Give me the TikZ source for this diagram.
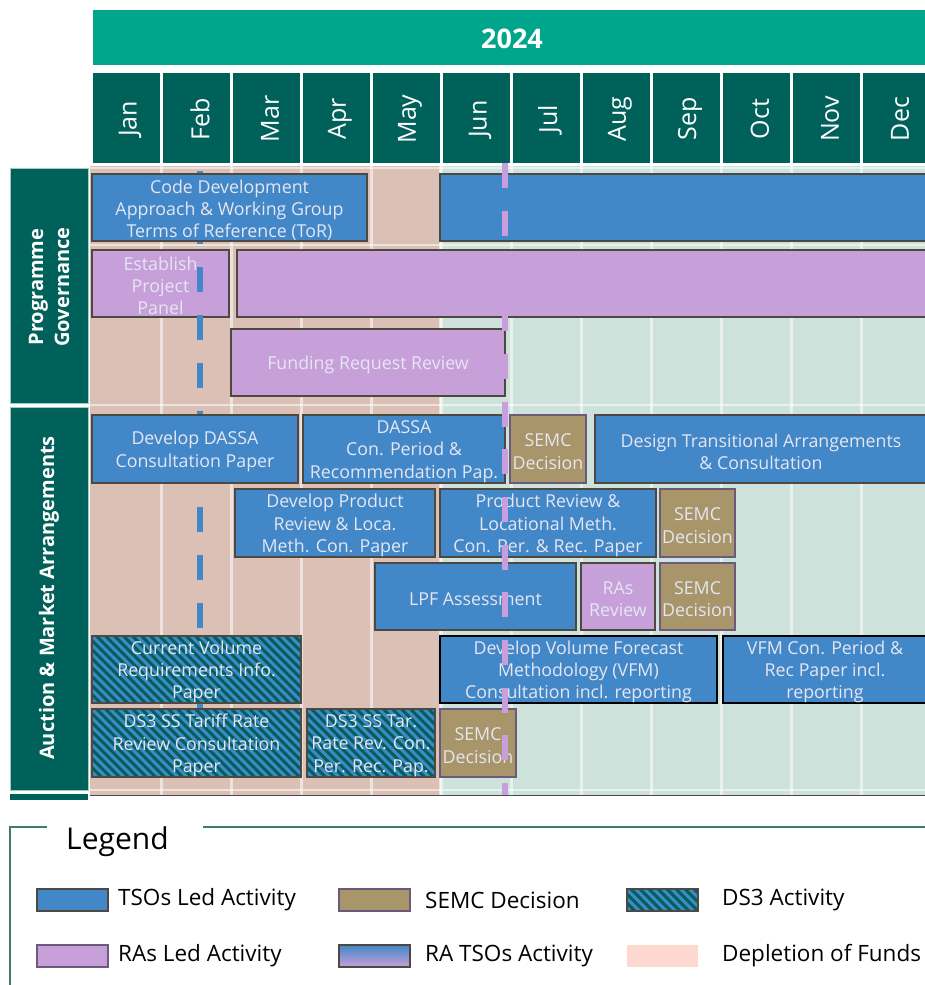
\documentclass[tikz,border=0pt]{standalone}
\usepackage{fontspec}
\setmainfont{Open Sans}
\definecolor{yearc}{HTML}{00A68B}
\definecolor{monthc}{HTML}{00605A}
\definecolor{pinkbg}{HTML}{DBC0B6}
\definecolor{mintbg}{HTML}{CCE2DB}
\definecolor{bluebar}{HTML}{4287C8}
\definecolor{purplebar}{HTML}{C7A0DA}
\definecolor{purpledash}{HTML}{C99EDC}
\definecolor{goldbar}{HTML}{A8956A}
\definecolor{barline}{HTML}{4D4840}
\definecolor{goldline}{HTML}{6C5A7C}
\definecolor{bartext}{HTML}{E6E6F2}
\definecolor{deplete}{HTML}{FDD8D1}
\definecolor{legendline}{HTML}{3F7B73}
\definecolor{labeledge}{HTML}{9CCFC6}
\definecolor{bottomline}{HTML}{4A4A44}
\tikzset{
  barbox/.style={draw=barline, line width=2.5pt, inner sep=0pt, outer sep=0pt, anchor=north west},
  bartxt/.style={align=center, text=bartext, inner sep=0pt, font=\fontsize{17.8}{22.3}\selectfont},
  tsobar/.style={barbox, fill=bluebar},
  rabar/.style={barbox, fill=purplebar},
  semcbar/.style={barbox, fill=goldbar, draw=goldline},
  stripes/.style={path picture={\foreach \k in {-12,...,28}{\draw[line width=3pt, draw=bluebar]
      ([xshift=\k*9pt]path picture bounding box.north west) -- ++(110,110);}}},
  ds3bar/.style={barbox, fill=monthc, stripes},
  monthbox/.style={fill=monthc, inner sep=0pt, outer sep=0pt, anchor=north west,
    minimum width=67pt, minimum height=90pt},
  monthtxt/.style={rotate=90, text=white, font=\fontsize{25}{30}\selectfont},
  grouplabel/.style={fill=monthc, draw=labeledge, line width=1pt, inner sep=0pt, outer sep=0pt,
    anchor=north west, minimum width=78pt},
  grouptxt/.style={rotate=90, text=white, align=center, font=\bfseries\fontsize{20}{26}\selectfont},
  gridline/.style={draw=white, opacity=0.55, line width=2.5pt},
  bluedash/.style={draw=bluebar, line width=6.5pt, dash pattern=on 25pt off 23pt},
  purpledashline/.style={draw=purpledash, line width=6.5pt, dash pattern=on 25pt off 22.7pt},
  legendframe/.style={draw=legendline, line width=2.5pt},
  swatch/.style={minimum width=71pt, minimum height=22pt, inner sep=0pt, outer sep=0pt, line width=2pt},
  legtxt/.style={anchor=west, inner sep=0pt, font=\fontsize{22.5}{26}\selectfont, text=black},
}
\newcommand{\actbar}[7]{%
  \node[#1, minimum width={#4-#2}, minimum height={#5-#3}] (#6) at (#2,#3) {};
  \node[bartxt] (#6t) at ([yshift=-2.5pt]#6.center) {#7};}
\begin{document}
\begin{tikzpicture}[x=1pt,y=-1pt]
\useasboundingbox (0,0) rectangle (925,985);
\clip (0,0) rectangle (925,985);
\fill[white] (0,0) rectangle (925,985);
% year
\node[fill=yearc, inner sep=0pt, outer sep=0pt, anchor=north west, minimum width=840pt, minimum height=55pt] (yearbar) at (93,10) {};
\node[text=white, font=\bfseries\fontsize{27}{32}\selectfont] (yeartxt) at (512,39) {2024};
% months
\foreach \m [count=\i from 0] in {Jan,Feb,Mar,Apr,May,Jun,Jul,Aug,Sep,Oct,Nov,Dec}{
  \node[monthbox] (mb\i) at ({93+70*\i},73) {};
  \node[monthtxt] (mt\i) at ({130+70*\i},119) {\m};
}
% group labels
\node[grouplabel, minimum height=235pt] (pg) at (10,168) {};
\node[grouptxt] (pgtxt) at (49,287) {Programme\\Governance};
\node[grouplabel, minimum height=383pt] (am) at (10,407) {};
\node[grouptxt] (amtxt) at (49,598) {Auction \& Market Arrangements};
\fill[monthc] (10,794) rectangle (88,800);
% body background
\fill[pinkbg] (90,166) rectangle (440,795);
\fill[mintbg] (440,166) rectangle (925,795);
\foreach \xx in {161.5,231.5,...,861.5}{\draw[gridline] (\xx,166) -- (\xx,795);}
\draw[gridline] (440,166) -- (440,795);
\foreach \yy in {168,245,405,790}{\draw[gridline] (90,\yy) -- (925,\yy);}
% purple panel drawn below the blue milestone line
\actbar{rabar}{92}{250}{229}{317}{estpanel}{Establish\\Project\\Panel}
% blue milestone line
\coordinate (bdtop) at (200,171);
\coordinate (bdbot) at (200,796);
\draw[bluedash] (bdtop) -- (bdbot);
% programme governance bars
\actbar{tsobar}{92}{174}{367}{241}{codedev}{Code Development\\Approach \& Working Group\\Terms of Reference (ToR)}
\actbar{tsobar}{440}{174}{935}{241}{codedevb}{}
\actbar{rabar}{237}{250}{935}{317}{panelb}{}
\actbar{rabar}{231}{329}{505}{396}{funding}{Funding Request Review}
% auction & market bars
\actbar{tsobar}{92}{415}{298}{483}{devdassa}{Develop DASSA\\Consultation Paper}
\actbar{tsobar}{303}{415}{505}{483}{dassacon}{DASSA\\Con. Period \&\\Recommendation Pap.}
\actbar{semcbar}{510}{415}{586}{483}{semca}{SEMC\\Decision}
\actbar{tsobar}{595}{415}{927}{483}{design}{Design Transitional Arrangements\\\& Consultation}
\actbar{tsobar}{235}{489}{435}{557}{devprod}{Develop Product\\Review \& Loca.\\Meth. Con. Paper}
\actbar{tsobar}{440}{489}{656}{557}{prodrev}{Product Review \&\\Locational Meth.\\Con. Per. \& Rec. Paper}
\actbar{semcbar}{660}{489}{735}{557}{semcb}{SEMC\\Decision}
\actbar{tsobar}{375}{563}{576}{630}{lpf}{LPF Assessment}
\actbar{rabar}{581}{563}{655}{630}{rasrev}{RAs\\Review}
\actbar{semcbar}{660}{563}{735}{630}{semcc}{SEMC\\Decision}
\actbar{tsobar,draw=black}{440}{636}{717}{703}{vfmdev}{Develop Volume Forecast\\Methodology (VFM)\\Consultation incl. reporting}
\actbar{tsobar,draw=black}{723}{636}{927}{703}{vfmcon}{VFM Con. Period \&\\Rec Paper incl.\\reporting}
\actbar{semcbar}{440}{709}{516}{777}{semcd}{SEMC\\Decision}
% DS3 bars
\actbar{ds3bar}{92}{636}{301}{703}{curvol}{Current Volume\\Requirements Info.\\Paper}
\actbar{ds3bar}{92}{709}{301}{777}{ds3a}{DS3 SS Tariff Rate\\Review Consultation\\Paper}
\actbar{ds3bar}{307}{709}{435}{777}{ds3b}{DS3 SS Tar.\\Rate Rev. Con.\\Per. Rec. Pap.}
% purple milestone line
\coordinate (pdtop) at (505,163);
\coordinate (pdbot) at (505,796);
\draw[purpledashline] (pdtop) -- (pdbot);
% bottom line
\coordinate (blL) at (90,795.5);
\coordinate (blR) at (925,795.5);
\draw[draw=bottomline, line width=1.5pt] (blL) -- (blR);
% legend
\coordinate (lf1) at (47,827);
\coordinate (lf2) at (10,827);
\coordinate (lf3) at (10,990);
\coordinate (lf4) at (203,827);
\coordinate (lf5) at (930,827);
\draw[legendframe] (lf1) -- (lf2) -- (lf3);
\draw[legendframe] (lf4) -- (lf5);
\node[anchor=west, inner sep=0pt, font=\fontsize{30}{36}\selectfont] (legtitle) at (66,842) {Legend};
\node[swatch, fill=bluebar, draw=barline] (sw1) at (72.5,900) {};
\node[legtxt] (lt1) at (118,900) {TSOs Led Activity};
\node[swatch, fill=goldbar, draw=goldline] (sw2) at (374,900) {};
\node[legtxt] (lt2) at (425,900) {SEMC Decision};
\node[swatch, fill=monthc, draw=barline, stripes] (sw3) at (662,900) {};
\node[legtxt] (lt3) at (722,900) {DS3 Activity};
\node[swatch, fill=purplebar, draw=goldline] (sw4) at (72.5,956) {};
\node[legtxt] (lt4) at (118,956) {RAs Led Activity};
\node[swatch, top color=bluebar, bottom color=purplebar, draw=barline] (sw5) at (374,956) {};
\node[legtxt] (lt5) at (425,956) {RA TSOs Activity};
\node[swatch, fill=deplete] (sw6) at (662,956) {};
\node[legtxt] (lt6) at (722,956) {Depletion of Funds};
\end{tikzpicture}
\end{document}
